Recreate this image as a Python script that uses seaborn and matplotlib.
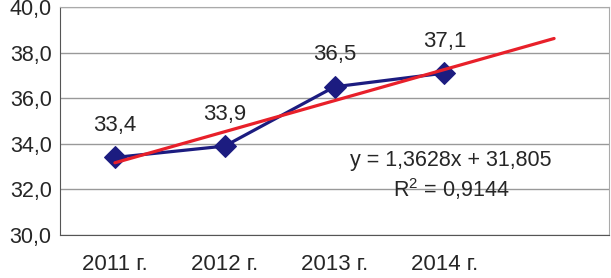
import numpy as np
import pandas as pd
import seaborn as sns
import matplotlib.pyplot as plt

years = ['2011 г.', '2012 г.', '2013 г.', '2014 г.']
values = [33.4, 33.9, 36.5, 37.1]
labels = ['33,4', '33,9', '36,5', '37,1']
slope = 1.3628
intercept = 31.805
eq_text = 'y = 1,3628x + 31,805'
r2_text = 'R$^2$ = 0,9144'

sns.set_style('white')
plt.rcParams['font.family'] = ['Liberation Sans', 'DejaVu Sans']
plt.rcParams['mathtext.default'] = 'regular'

data = pd.DataFrame({'pos': np.arange(len(years)), 'value': values})

fig = plt.figure(figsize=(6.11, 2.78), dpi=100)
ax = fig.add_axes([60 / 611, 43 / 278, 549 / 611, 228 / 278])

# линия тренда с прогнозом на один период вперёд
trend_x = np.array([1, 5])
trend_y = slope * trend_x + intercept
ax.plot(trend_x - 1, trend_y, color='#e8202a', linewidth=2.3, zorder=4)

sns.lineplot(data=data, x='pos', y='value', ax=ax, color='#1c1c80', linewidth=2.3,
             marker='D', markersize=11, markeredgecolor='#1c1c80', zorder=3)

for x, y, t in zip(data['pos'], values, labels):
    ax.annotate(t, (x, y), xytext=(0, 32), textcoords='offset pixels',
                ha='center', va='center', fontsize=16)

ax.text(3.06, 33.25, eq_text, ha='center', va='center', fontsize=15.5)
ax.text(3.06, 32.0, r2_text, ha='center', va='center', fontsize=15.5)

ax.set_xlim(-0.5, 4.5)
ax.set_ylim(30, 40)
ax.set_yticks(np.arange(30, 41, 2))
ax.set_yticklabels([f'{v:.1f}'.replace('.', ',') for v in np.arange(30, 41, 2)], fontsize=15.5)
ax.set_xticks(np.arange(-0.5, 5, 1))
ax.set_xticklabels([])
ax.set_xticks(np.arange(len(years)), minor=True)
ax.set_xticklabels(years, minor=True, fontsize=16)
ax.tick_params(axis='x', which='major', length=4, direction='out', color='#555555')
ax.tick_params(axis='x', which='minor', length=0, pad=14)
ax.tick_params(axis='y', length=4, direction='out', color='#555555', pad=2)
ax.grid(axis='y', color='#999999', linewidth=1)
ax.set_xlabel('')
ax.set_ylabel('')
for s in ['left', 'bottom']:
    ax.spines[s].set_color('#555555')
for s in ['top', 'right']:
    ax.spines[s].set_color('#aaaaaa')

fig.savefig('out.png', dpi=100)
